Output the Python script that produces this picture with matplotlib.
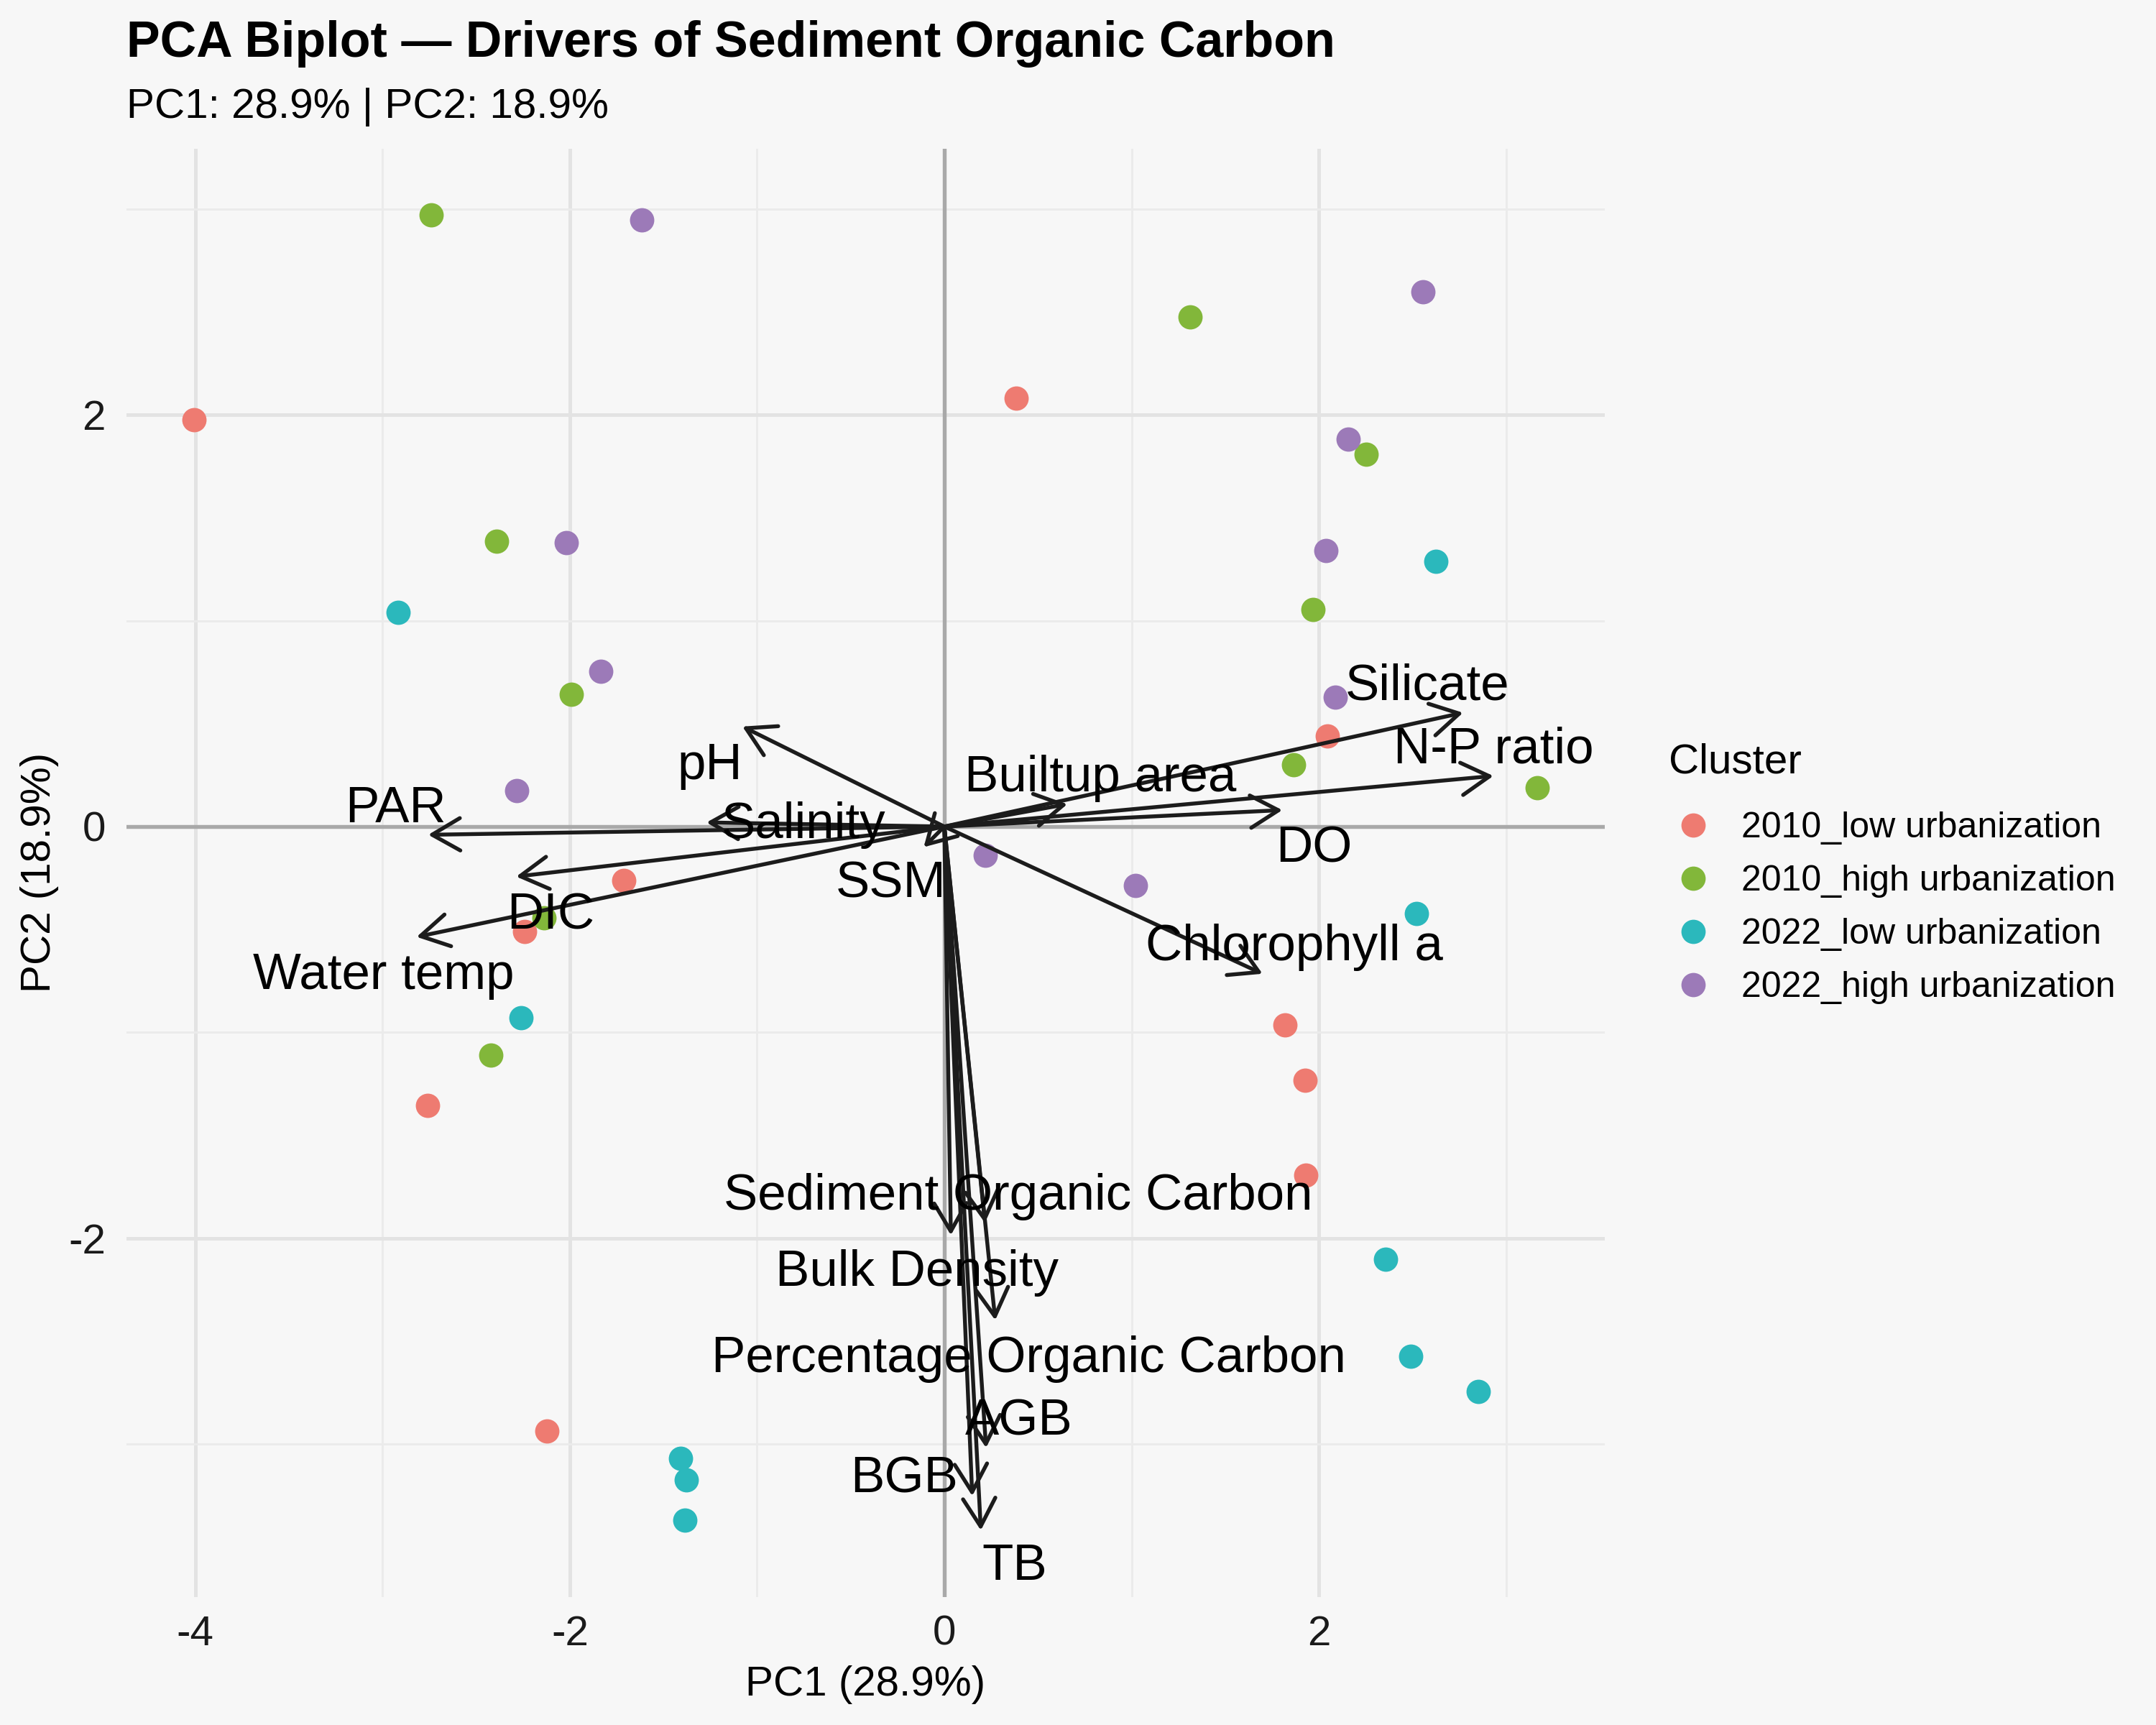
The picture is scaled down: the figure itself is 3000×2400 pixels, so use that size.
import matplotlib
matplotlib.use("Agg")
import matplotlib.pyplot as plt
from matplotlib.lines import Line2D

plt.rcParams['font.family'] = ['Liberation Sans', 'DejaVu Sans']
plt.rcParams['axes.unicode_minus'] = False

# ---------------- data ----------------
clusters = ["2010_low urbanization", "2010_high urbanization",
            "2022_low urbanization", "2022_high urbanization"]
cluster_colors = ["#EE7B71", "#82B73A", "#2BB8BC", "#9C7AB8"]

pc1_2010_low = [-4.007, 0.385, 2.044, -1.710, -2.242, -2.760, -2.121, 1.820, 1.926, 1.930]
pc2_2010_low = [1.975, 2.082, 0.440, -0.262, -0.510, -1.356, -2.935, -0.963, -1.233, -1.695]

pc1_2010_high = [-2.741, -2.392, -1.993, 1.313, 2.253, 1.970, 1.864, 3.167, -2.139, -2.422]
pc2_2010_high = [2.973, 1.385, 0.643, 2.474, 1.807, 1.054, 0.299, 0.187, -0.443, -1.110]

pc1_2022_low = [-2.917, 2.624, -2.260, -1.409, -1.376, -1.384, 2.521, 2.356, 2.491, 2.851]
pc2_2022_low = [1.041, 1.289, -0.929, -3.069, -3.175, -3.370, -0.421, -2.102, -2.572, -2.746]

pc1_2022_high = [-1.615, -2.018, -1.835, -2.282, 0.217, 2.557, 2.158, 2.036, 2.088, 1.020]
pc2_2022_high = [2.946, 1.380, 0.755, 0.174, -0.141, 2.599, 1.881, 1.342, 0.630, -0.288]

var_names = ["pH", "PAR", "Salinity", "Builtup area", "DO", "Silicate", "N-P ratio",
             "Chlorophyll a", "SSM", "DIC", "Water temp", "Sediment Organic Carbon",
             "Bulk Density", "Percentage Organic Carbon", "AGB", "BGB", "TB"]
load_pc1 = [-1.078, -2.756, -1.270, 0.657, 1.805, 2.770, 2.932, 1.699, -0.110, -2.286,
            -2.818, 0.217, 0.035, 0.272, 0.223, 0.149, 0.195]
load_pc2 = [0.486, -0.040, 0.020, 0.109, 0.080, 0.553, 0.246, -0.715, -0.100, -0.243,
            -0.536, -1.925, -1.985, -2.398, -3.018, -3.252, -3.419]
label_pc1 = [-1.252, -2.929, -0.751, 0.833, 1.972, 2.578, 2.932, 1.868, -0.285, -2.102,
             -2.996, 0.393, -0.144, 0.449, 0.399, -0.213, 0.376]
label_pc2 = [0.318, 0.110, 0.033, 0.260, -0.084, 0.706, 0.396, -0.560, -0.257, -0.410,
             -0.700, -1.771, -2.144, -2.560, -2.866, -3.147, -3.571]

x_major = [-4, -2, 0, 2]
x_minor = [-3, -1, 1, 3]
y_major = [-2, 0, 2]
y_minor = [-3, -1, 1, 3]

title = "PCA Biplot \u2014 Drivers of Sediment Organic Carbon"
subtitle = "PC1: 28.9% | PC2: 18.9%"
xlabel = "PC1 (28.9%)"
ylabel = "PC2 (18.9%)"

# ---------------- figure ----------------
BG = "#f7f7f7"
fig = plt.figure(figsize=(10, 8), dpi=300, facecolor=BG)
ax = fig.add_axes([0.05867, 0.07429, 0.68560, 0.83963])
ax.set_facecolor(BG)

ax.set_xlim(-4.367, 3.526)
ax.set_ylim(-3.742, 3.294)
ax.set_xticks(x_major)
ax.set_xticks(x_minor, minor=True)
ax.set_yticks(y_major)
ax.set_yticks(y_minor, minor=True)
ax.set_xticklabels([str(v) for v in x_major])
ax.set_yticklabels([str(v) for v in y_major])
ax.tick_params(which="both", length=0)
ax.tick_params(axis="x", which="major", pad=6.0, labelsize=14, labelcolor="#1a1a1a")
ax.tick_params(axis="y", which="major", pad=7, labelsize=14, labelcolor="#1a1a1a")
for s in ax.spines.values():
    s.set_visible(False)
ax.grid(which="major", color="#e3e3e3", lw=1.2, zorder=0)
ax.grid(which="minor", color="#ebebeb", lw=0.7, zorder=0)
ax.set_axisbelow(True)

ax.axhline(0, color="#a9a9a9", lw=1.3, zorder=1)
ax.axvline(0, color="#a9a9a9", lw=1.3, zorder=1)

series = [(pc1_2010_low, pc2_2010_low), (pc1_2010_high, pc2_2010_high),
          (pc1_2022_low, pc2_2022_low), (pc1_2022_high, pc2_2022_high)]
for (xs, ys), name, col in zip(series, clusters, cluster_colors):
    ax.scatter(xs, ys, s=66, color=col, linewidths=0, zorder=2, label=name)

for name, x1, y1, lx, ly in zip(var_names, load_pc1, load_pc2, label_pc1, label_pc2):
    ax.annotate("", xy=(x1, y1), xytext=(0, 0),
                arrowprops=dict(arrowstyle="->,head_length=0.935,head_width=0.54",
                                mutation_scale=10, lw=1.3, color="#1c1c1c",
                                shrinkA=0, shrinkB=0),
                zorder=3)
    fs = 17
    ax.annotate(name, xy=(lx, ly), xytext=(0, -0.358 * fs), textcoords="offset points",
                ha="center", va="baseline", fontsize=fs, color="black", zorder=4)

ax.set_xlabel(xlabel, fontsize=14, color="black", va="baseline")
ax.xaxis.set_label_coords(0.5, -0.0681)
ax.set_ylabel(ylabel, fontsize=14, color="black", va="center")
ax.yaxis.set_label_coords(-0.0588, 0.5)

fig.text(0.0587, 0.9671, title, fontsize=16.8, fontweight="bold", ha="left", va="baseline")
fig.text(0.0587, 0.9315, subtitle, fontsize=14, ha="left", va="baseline")

handles = [Line2D([], [], marker="o", linestyle="none", markersize=8.1,
                  markerfacecolor=c, markeredgewidth=0) for c in cluster_colors]
leg = fig.legend(handles, clusters, title="Cluster", loc="upper left",
                 bbox_to_anchor=(0.7739, 0.5694), frameon=False, borderpad=0,
                 borderaxespad=0, alignment="left", handlelength=1.37,
                 handletextpad=0.65, labelspacing=0.56, fontsize=12, title_fontsize=14)
leg._legend_box.sep = 10.0

fig.savefig("out.png", dpi=300, facecolor=BG)
